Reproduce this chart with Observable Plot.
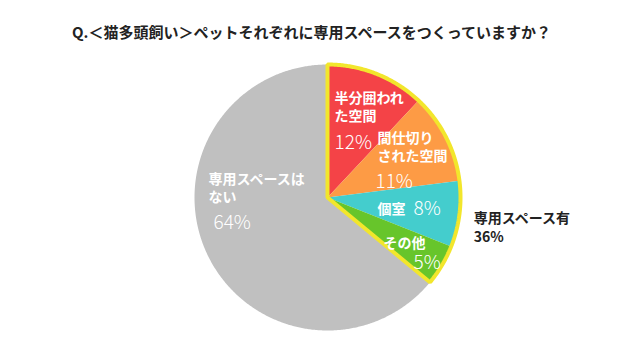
<!DOCTYPE html>
<html><head><meta charset="utf-8">
<script src="https://cdn.jsdelivr.net/npm/d3@7"></script>
<script src="https://cdn.jsdelivr.net/npm/@observablehq/plot@0.6"></script>
<style>
body{margin:0;background:#fff;font-family:"Noto Sans CJK JP","Noto Sans",sans-serif;}
#title{height:50px;box-sizing:border-box;padding-top:22px;line-height:20px;font-size:15px;font-weight:bold;text-align:center;color:#222;padding-right:17px;white-space:nowrap}
</style>
</head><body>
<div id="title"></div>
<div id="chart"></div>
<script>
const title = "Q.＜猫多頭飼い＞ペットそれぞれに専用スペースをつくっていますか？";
const categories = ["半分囲われた空間", "間仕切りされた空間", "個室", "その他", "専用スペースはない"];
const nameLines = ["半分囲われ\nた空間", "間仕切り\nされた空間", "個室", "その他", "専用スペースは\nない"];
const values = [12, 11, 8, 5, 64];
const colors = ["#f44347", "#fd9b45", "#44cdcd", "#67c52b", "#c0c0c0"];
const groupLabel = "専用スペース有";
const groupValue = 36;
const groupCount = 4; // first four slices form the "有" group

// label layout (data units of the unit-circle frame; start-anchored)
const nameLayout = [[0.053, 0.684], [0.376, 0.385], [0.376, -0.083], [0.421, -0.338], [-0.895, 0.075]];
const pctLayout = [[0.053, 0.414], [0.361, 0.118], [0.647, -0.083], [0.647, -0.489], [-0.857, -0.188]];
const groupLayout = [1.10, -0.218];

document.getElementById("title").textContent = title;

const pie = d3.pie().sort(null).value(d => d.value).startAngle(0).endAngle(2 * Math.PI);
const data = categories.map((c, i) => ({name: c, value: values[i]}));
const arcs = pie(data);

function sector(a0, a1, key) {
  const pts = [{k: key, x: 0, y: 0}];
  const n = Math.max(2, Math.ceil((a1 - a0) / (Math.PI / 360)));
  for (let j = 0; j <= n; j++) {
    const a = a0 + (a1 - a0) * j / n;
    pts.push({k: key, x: Math.sin(a), y: Math.cos(a)});
  }
  return pts;
}
const slicePts = arcs.flatMap(a => sector(a.startAngle, a.endAngle, a.data.name));
const groupPts = sector(arcs[0].startAngle, arcs[groupCount - 1].endAngle, "group");

const names = categories.map((c, i) => ({x: nameLayout[i][0], y: nameLayout[i][1], t: nameLines[i]}));
const pcts = categories.map((c, i) => ({x: pctLayout[i][0], y: pctLayout[i][1], t: values[i] + "%"}));

const chart = Plot.plot({
  width: 640, height: 310,
  marginLeft: 194, marginRight: 180, marginTop: 14, marginBottom: 30,
  x: {domain: [-1, 1], axis: null},
  y: {domain: [-1, 1], axis: null},
  color: {domain: categories, range: colors},
  style: {fontFamily: '"Noto Sans CJK JP","Noto Sans",sans-serif', background: "#fff"},
  marks: [
    Plot.line(slicePts, {x: "x", y: "y", z: "k", fill: "k", stroke: "none", curve: "linear-closed"}),
    Plot.line(groupPts, {x: "x", y: "y", stroke: "#f2e62c", strokeWidth: 4, fill: "none", curve: "linear-closed", strokeLinejoin: "miter"}),
    Plot.text(names, {x: "x", y: "y", text: "t", textAnchor: "start", lineAnchor: "middle", fill: "white", fontSize: 14, fontWeight: "bold", lineHeight: 1.3}),
    Plot.text(pcts, {x: "x", y: "y", text: "t", textAnchor: "start", lineAnchor: "middle", fill: "white", fontSize: 19, fontWeight: 300}),
    Plot.text([{x: groupLayout[0], y: groupLayout[1], t: groupLabel + "\n" + groupValue + "%"}], {x: "x", y: "y", text: "t", textAnchor: "start", lineAnchor: "middle", fill: "#222", fontSize: 14, fontWeight: "bold", lineHeight: 1.35})
  ]
});
document.getElementById("chart").appendChild(chart);
</script>
</body></html>
